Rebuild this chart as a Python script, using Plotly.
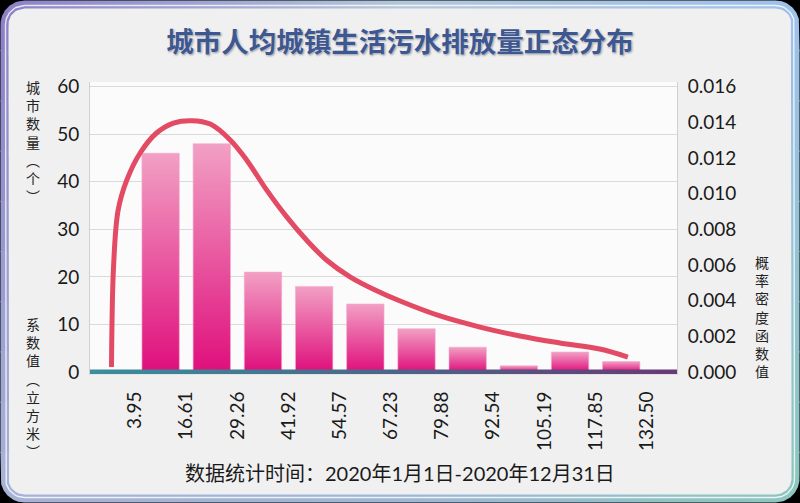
import numpy as np
import plotly.graph_objects as go

# ---------------- data ----------------
bin_labels = ["3.95", "16.61", "29.26", "41.92", "54.57", "67.23",
              "79.88", "92.54", "105.19", "117.85", "132.50"]
city_counts = [46, 48, 21, 18, 14.3, 9.1, 5.2, 1.3, 4.2, 2.2]
# density curve (x in bin-edge index units, y = probability density)
curve_pos = [-0.46, -0.42, -0.33, -0.16, 0.10, 0.42, 0.75, 1.11, 1.47, 1.86,
             2.18, 2.57, 2.96, 3.35, 3.74, 4.20, 4.69, 5.18, 5.96, 6.74,
             7.52, 8.30, 9.08, 9.63]
curve_density = [0.00028, 0.00589, 0.00908, 0.01077, 0.01228, 0.01340, 0.01396,
                 0.01409, 0.01390, 0.01301, 0.01189, 0.01021, 0.00871, 0.00740,
                 0.00628, 0.00534, 0.00460, 0.00398, 0.00314, 0.00252, 0.00202,
                 0.00163, 0.00129, 0.00084]
density_ticks = [0.000, 0.002, 0.004, 0.006, 0.008, 0.010, 0.012, 0.014, 0.016]
count_ticks = [0, 10, 20, 30, 40, 50, 60]

title_text = "城市人均城镇生活污水排放量正态分布"
left_title_top = ["城", "市", "数", "量", "︵", "个", "︶"]
left_title_bottom = ["系", "数", "值", "︵", "立", "方", "米", "︶"]
right_title = ["概", "率", "密", "度", "函", "数", "值"]
footer_text = "数据统计时间：2020年1月1日-2020年12月31日"

# ---------------- layout constants ----------------
W, H = 800, 503
PX_L, PX_R = 90, 677          # plot area left/right in px
Y_MIN, Y_MAX = -0.55, 61
PX_ZERO, PX_PER = 372, 4.756
PX_B = PX_ZERO - Y_MIN * PX_PER
PX_T = PX_ZERO - Y_MAX * PX_PER
X_MIN, X_MAX = -0.88, 10.59
BAR_W = 0.73
DENS_SCALE = 0.016 / 60

FONT_NUM = "Lato, 'Noto Sans', 'Noto Sans CJK SC', sans-serif"
FONT_CJK = "'Noto Sans CJK SC', 'Noto Sans', sans-serif"


def hex2rgb(h):
    h = h.lstrip("#")
    return np.array([int(h[i:i + 2], 16) for i in (0, 2, 4)], dtype=float)


def mix(c1, c2, t):
    c = hex2rgb(c1) * (1 - t) + hex2rgb(c2) * t
    return "rgb(%d,%d,%d)" % tuple(np.round(c).astype(int))


def xl_of(y, x0, y0, y1, r):
    y = np.asarray(y, dtype=float)
    out = np.full_like(y, x0)
    top = y < y0 + r
    dy = y0 + r - y[top]
    out[top] = x0 + r - np.sqrt(np.clip(r * r - dy * dy, 0, None))
    bot = y > y1 - r
    dy = y[bot] - (y1 - r)
    out[bot] = x0 + r - np.sqrt(np.clip(r * r - dy * dy, 0, None))
    return out


def rr_band(x0, x1, y0, y1, r, ya, yb, n=120):
    ys = np.linspace(ya, yb, n)
    xl = xl_of(ys, x0, y0, y1, r)
    xr = x0 + x1 - xl
    xs = np.concatenate([xl, xr[::-1], xl[:1]])
    yy = np.concatenate([ys, ys[::-1], ys[:1]])
    return xs, yy


fig = go.Figure()

# ---------------- frame (subplot x/y in pixel coordinates) ----------------
top_cols = ["#8a7ec6", "#b3c8da", "#9fc0ec"]
bot_cols = ["#a9b5d8", "#9db6d6", "#8cc6bd"]
nb = 10
ox0, ox1, oy0, oy1, orad = 0.5, 799.5, 0.5, 502.5, 24
edges = np.linspace(oy0, oy1, nb + 1)
for i in range(nb):
    t = (edges[i] + edges[i + 1]) / 2 / H
    cols = [mix(top_cols[j], bot_cols[j], t) for j in range(3)]
    xs, ys = rr_band(ox0, ox1, oy0, oy1, orad,
                     max(oy0, edges[i] - 0.6), min(oy1, edges[i + 1] + 0.6))
    fig.add_trace(go.Scatter(
        x=xs, y=ys, xaxis="x", yaxis="y", mode="lines", fill="toself",
        line=dict(width=0), hoverinfo="skip", showlegend=False,
        fillgradient=dict(type="horizontal", start=0, stop=W,
                          colorscale=[[0, cols[0]], [0.5, cols[1]], [1, cols[2]]])))

# light inner line
xs, ys = rr_band(5.5, 794.5, 5.5, 497.5, 19, 5.5, 497.5, 500)
fig.add_trace(go.Scatter(x=xs, y=ys, xaxis="x", yaxis="y", mode="lines",
                         line=dict(color="rgba(255,255,255,0.8)", width=1.4),
                         hoverinfo="skip", showlegend=False))
# inner background
xs, ys = rr_band(8.5, 791.5, 8.5, 494.5, 16, 8.5, 494.5, 500)
fig.add_trace(go.Scatter(x=xs, y=ys, xaxis="x", yaxis="y", mode="lines",
                         fill="toself", fillcolor="#f0f0f0", line=dict(width=0),
                         hoverinfo="skip", showlegend=False))
# plot area background
fig.add_trace(go.Scatter(x=[PX_L, PX_R, PX_R, PX_L, PX_L],
                         y=[PX_T, PX_T, PX_B, PX_B, PX_T],
                         xaxis="x", yaxis="y", mode="lines", fill="toself",
                         fillcolor="#fbfbfb", line=dict(width=0),
                         hoverinfo="skip", showlegend=False))

# ---------------- bars (gradient filled) ----------------
for i, v in enumerate(city_counts):
    c = i + 0.5
    x0, x1 = c - BAR_W / 2, c + BAR_W / 2
    fig.add_trace(go.Scatter(
        x=[x0, x0, x1, x1, x0], y=[0, v, v, 0, 0], xaxis="x2", yaxis="y2",
        mode="lines", fill="toself", line=dict(color="rgba(245,170,205,0.6)", width=1),
        fillgradient=dict(type="vertical", colorscale=[[0, "#df0f7c"], [1, "#f2a0c4"]]),
        name=bin_labels[i], showlegend=False,
        hovertemplate="%{y}<extra></extra>"))

# baseline with gradient
fig.add_trace(go.Scatter(
    x=[X_MIN, X_MAX, X_MAX, X_MIN, X_MIN], y=[-0.5, -0.5, 0.5, 0.5, -0.5],
    xaxis="x2", yaxis="y2", mode="lines", fill="toself", line=dict(width=0),
    fillgradient=dict(type="horizontal", colorscale=[[0, "#3a8e9b"], [0.5, "#4c6688"], [1, "#683a76"]]),
    hoverinfo="skip", showlegend=False))

# density curve
fig.add_trace(go.Scatter(
    x=curve_pos, y=curve_density, xaxis="x2", yaxis="y3", mode="lines",
    line=dict(color="#e34a64", width=5, shape="spline", smoothing=1.0),
    showlegend=False, hoverinfo="skip"))

# ---------------- annotations ----------------
ann = []


def vcol(chars, y_first, x, size):
    n = len(chars)
    step = size * 1.3
    y_mid = y_first + step * (n - 1) / 2
    ann.append(dict(text="<br>".join(chars), x=x / W, y=1 - y_mid / H,
                    xref="paper", yref="paper", showarrow=False,
                    xanchor="center", yanchor="middle", align="center",
                    font=dict(family=FONT_CJK, size=size, color="#222222")))


vcol(left_title_top, 86.5, 33, 14)
vcol(left_title_bottom, 324, 33, 14)
vcol(right_title, 262, 762, 14)

ann.append(dict(text=footer_text, x=0.5, y=1 - 473 / H, xref="paper", yref="paper",
                showarrow=False, xanchor="center", yanchor="middle",
                font=dict(family="Lato, 'Noto Sans CJK SC', sans-serif", size=20, color="#1a1a1a")))

fig.update_layout(
    width=W, height=H, autosize=False,
    margin=dict(l=0, r=0, t=0, b=0, pad=0),
    paper_bgcolor="black", plot_bgcolor="rgba(0,0,0,0)",
    title=dict(text=title_text, x=0.5, xanchor="center", y=1 - 42 / H, yanchor="middle",
               automargin=False,
               font=dict(family=FONT_CJK, size=27.5, color="#3d5890", weight="bold",
                         shadow="0px 0px 2px #ffffff, 1px 1px 2px rgba(40,40,60,0.55)")),
    xaxis=dict(domain=[0, 1], range=[0, W], visible=False, fixedrange=True, anchor="y",
               automargin=False),
    yaxis=dict(domain=[0, 1], range=[H, 0], visible=False, fixedrange=True, anchor="x",
               automargin=False),
    xaxis2=dict(domain=[PX_L / W, PX_R / W], range=[X_MIN, X_MAX], anchor="y2",
                automargin=False,
                tickmode="array", tickvals=list(range(len(bin_labels))), ticktext=bin_labels,
                tickangle=-90, showgrid=False, zeroline=False, showline=False, ticks="",
                ticklabelstandoff=12,
                tickfont=dict(family=FONT_NUM, size=19, color="#1a1a1a")),
    yaxis2=dict(domain=[(H - PX_B) / H, (H - PX_T) / H], range=[Y_MIN, Y_MAX], anchor="x2",
                automargin=False,
                tickmode="array", tickvals=count_ticks, showgrid=True, gridcolor="#dadada",
                gridwidth=1, zeroline=False, showline=True, linecolor="#d0d0d0", linewidth=1,
                ticks="", ticklabelstandoff=6,
                tickfont=dict(family=FONT_NUM, size=19, color="#1a1a1a")),
    yaxis3=dict(overlaying="y2", side="right", anchor="x2", automargin=False,
                range=[Y_MIN * DENS_SCALE, Y_MAX * DENS_SCALE],
                tickmode="array", tickvals=density_ticks, tickformat=".3f",
                showgrid=False, zeroline=False, showline=True, linecolor="#d0d0d0",
                linewidth=1, ticks="", ticklabelstandoff=6,
                tickfont=dict(family=FONT_NUM, size=19, color="#1a1a1a")),
    annotations=ann,
)

fig.write_html("out.html", config={"displayModeBar": False},
               post_script="document.body.style.margin='0';document.body.style.background='black';")
